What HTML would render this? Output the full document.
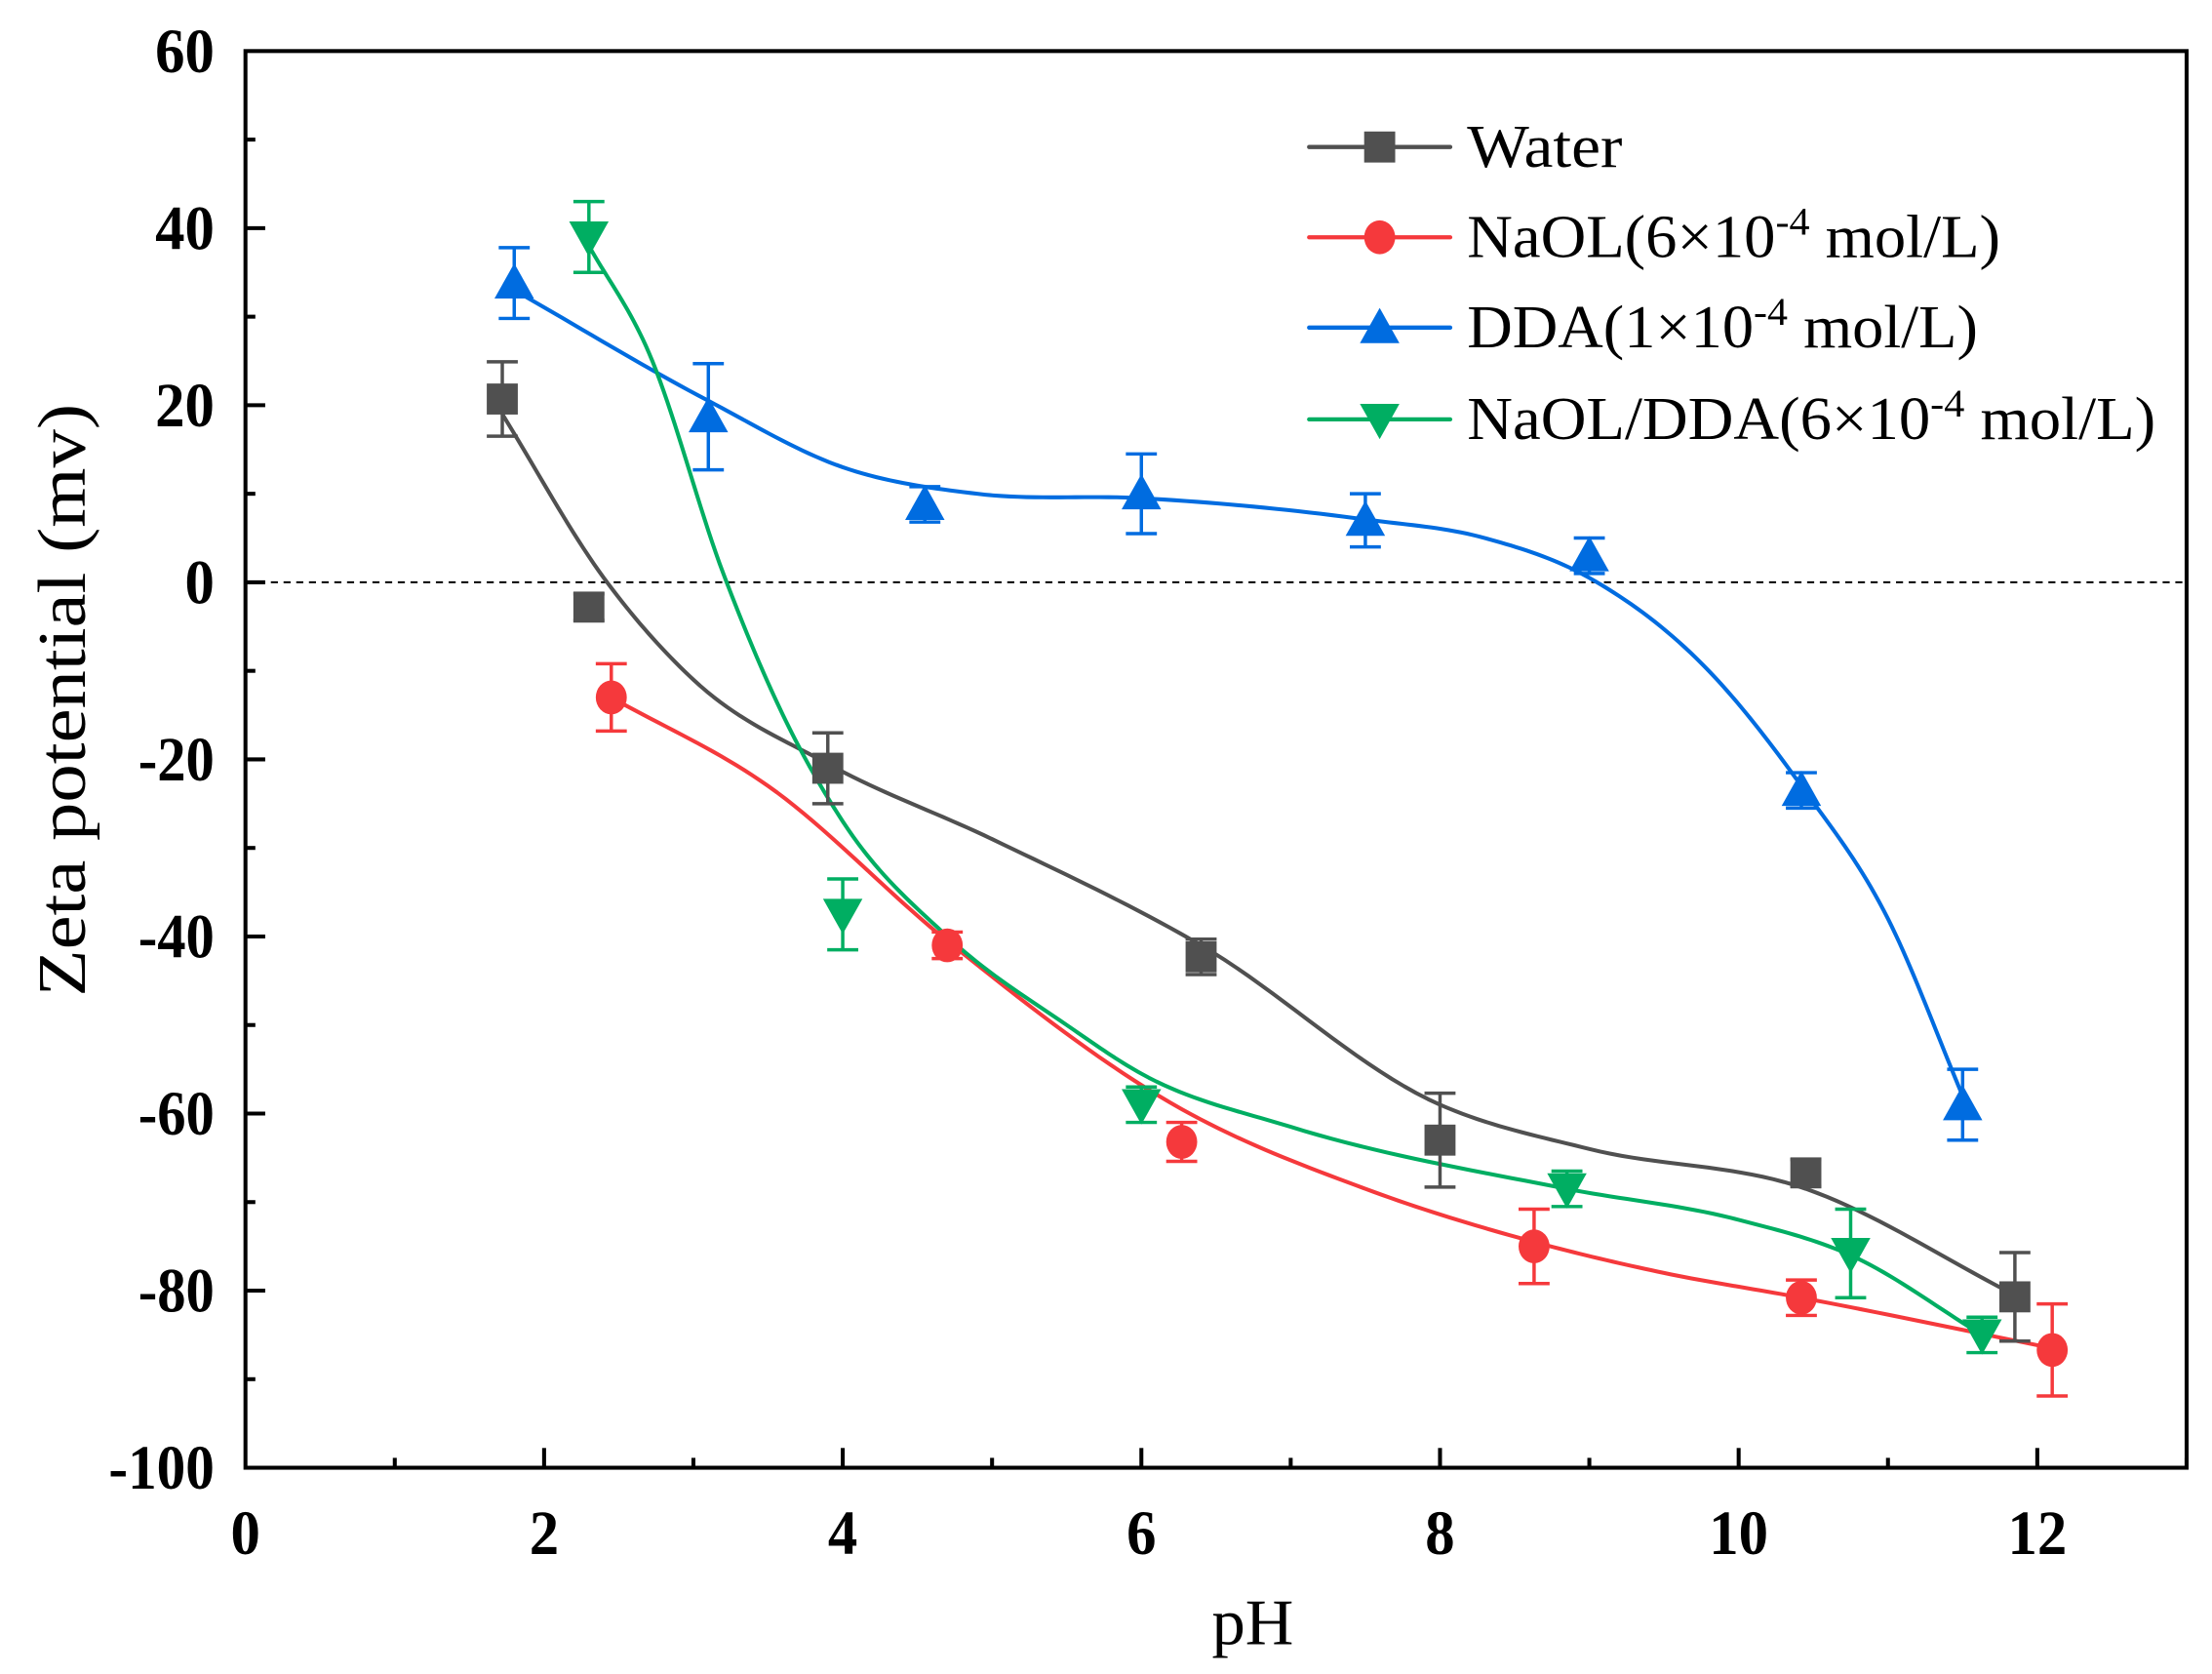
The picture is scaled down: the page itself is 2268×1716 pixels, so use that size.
<!DOCTYPE html>
<html><head><meta charset="utf-8"><style>
html,body{margin:0;padding:0;background:#fff}
svg{display:block}
text{font-family:"Liberation Serif",serif}
</style></head><body>
<svg id="chart" width="2268" height="1716" viewBox="0 0 1568 1186" xmlns="http://www.w3.org/2000/svg"></svg>
<script>
const seriesNames=["Water","NaOL","DDA","NaOL/DDA"];
const colors=["#505050","#f5393c","#006ce0","#00ae62"];
const waterX=[1.72,2.3,3.9,6.4,8.0,10.45,11.85];
const waterY=[20.7,-2.8,-21,-42.3,-63,-66.7,-80.7];
const waterErr=[4.2,1.5,4,2,5.3,1.5,5];
const naolX=[2.45,4.7,6.27,8.63,10.42,12.1];
const naolY=[-13,-41,-63.2,-75,-80.8,-86.7];
const naolErr=[3.8,1.5,2.2,4.2,2,5.2];
const ddaX=[1.8,3.1,4.55,6.0,7.5,9.0,10.42,11.5];
const ddaY=[33.8,18.7,8.8,10,7,3,-23.5,-59];
const ddaErr=[4,6,2,4.5,3,2,2,4];
const mixX=[2.3,4.0,6.0,8.85,10.75,11.63];
const mixY=[39,-37.5,-59,-68.5,-75.8,-85];
const mixErr=[4,4,2,2,5,2];
const waterFitX=[1.72,2.4,3,3.9,5,6.4,8,9,10.45,11.85];
const waterFitY=[19,0.5,-11,-20.5,-29,-41,-59,-64,-68.5,-80.5];
const naolFitX=[2.45,3.5,4.7,6.27,7.5,8.63,9.5,10.42,12.1];
const naolFitY=[-13,-23,-40.5,-59.5,-68.5,-74.5,-78,-80.8,-86.5];
const ddaFitX=[1.8,3.1,4,4.9,6,7.5,8.3,9,9.8,10.42,11,11.5];
const ddaFitY=[33,20.5,13,10,9.5,7.1,5,0.5,-10,-23,-38,-58];
const mixFitX=[2.3,2.7,3.2,3.6,4,4.7,5.5,6,7,8.85,10,10.75,11.63];
const mixFitY=[38,26,1,-15,-27,-40,-50,-55.5,-61.5,-68.5,-72,-76,-85];
const xTicks=[0,2,4,6,8,10,12];
const yTicks=[60,40,20,0,-20,-40,-60,-80,-100];

const L=174,R=1550,T=36,B=1040,XMAX=13,YMIN=-100,YMAX=60;
const sx=v=>L+v/XMAX*(R-L);
const sy=v=>T+(YMAX-v)/(YMAX-YMIN)*(B-T);
const svg=document.getElementById('chart');
const NS="http://www.w3.org/2000/svg";
function mk(tag,attrs,parent){const e=document.createElementNS(NS,tag);for(const k in attrs)e.setAttribute(k,attrs[k]);(parent||svg).appendChild(e);return e;}

let z=mk('line',{x1:L,x2:R,y1:sy(0),y2:sy(0),stroke:'#000','stroke-width':1.4,'stroke-dasharray':'5,4'});



function curve(xs,ys,color,name){
  const n=xs.length,d=[],m=[];
  for(let i=0;i<n-1;i++)d.push((ys[i+1]-ys[i])/(xs[i+1]-xs[i]));
  m[0]=d[0];m[n-1]=d[n-2];
  for(let i=1;i<n-1;i++){
    const h0=xs[i]-xs[i-1],h1=xs[i+1]-xs[i];
    m[i]=(d[i-1]*h1+d[i]*h0)/(h0+h1);
  }
  let path='';
  for(let i=0;i<n-1;i++){
    const h=xs[i+1]-xs[i];
    for(let k=0;k<=20;k++){
      const t=k/20,t2=t*t,t3=t2*t;
      const y=(2*t3-3*t2+1)*ys[i]+(t3-2*t2+t)*h*m[i]+(-2*t3+3*t2)*ys[i+1]+(t3-t2)*h*m[i+1];
      const x=xs[i]+t*h;
      path+=(path?'L':'M')+sx(x).toFixed(2)+','+sy(y).toFixed(2);
    }
  }
  const e=mk('path',{d:path,fill:'none',stroke:color,'stroke-width':2.8,'stroke-linejoin':'round'});
  
  
}
function marker(type,cx,cy,color,parent){
  let e;
  if(type==0)e=mk('rect',{x:cx-11,y:cy-11,width:22,height:22,fill:color},parent);
  else if(type==1)e=mk('ellipse',{cx,cy,rx:11,ry:12,fill:color},parent);
  else if(type==2)e=mk('polygon',{points:`${cx},${cy-14} ${cx-14},${cy+11} ${cx+14},${cy+11}`,fill:color},parent);
  else e=mk('polygon',{points:`${cx},${cy+14} ${cx-14},${cy-11} ${cx+14},${cy-11}`,fill:color},parent);
  return e;
}
function points(xs,ys,errs,type,color,name){
  xs.forEach((x,i)=>{
    const cx=sx(x),cy=sy(ys[i]),t=sy(ys[i]+errs[i]),b=sy(ys[i]-errs[i]);
    const g=mk('g',{stroke:color,'stroke-width':2.4});
    
    
    mk('line',{x1:cx,x2:cx,y1:t,y2:b},g);
    mk('line',{x1:cx-11,x2:cx+11,y1:t,y2:t},g);
    mk('line',{x1:cx-11,x2:cx+11,y1:b,y2:b},g);
    const m=marker(type,cx,cy,color);
    
    
  });
}
curve(waterFitX,waterFitY,colors[0],'water');
curve(naolFitX,naolFitY,colors[1],'naol');
curve(ddaFitX,ddaFitY,colors[2],'dda');
curve(mixFitX,mixFitY,colors[3],'naol-dda');
points(waterX,waterY,waterErr,0,colors[0],'water');
points(naolX,naolY,naolErr,1,colors[1],'naol');
points(ddaX,ddaY,ddaErr,2,colors[2],'dda');
points(mixX,mixY,mixErr,3,colors[3],'naol-dda');

let f=mk('rect',{x:L,y:T,width:R-L,height:B-T,fill:'none',stroke:'#000','stroke-width':2.8});


for(let v=1;v<=XMAX;v++){const len=v%2==0?14:7;const t=mk('line',{x1:sx(v),x2:sx(v),y1:B,y2:B-len,stroke:'#000','stroke-width':2.8});}
for(let v=YMIN+10;v<YMAX;v+=10){const len=v%20==0?14:7;const t=mk('line',{x1:L,x2:L+len,y1:sy(v),y2:sy(v),stroke:'#000','stroke-width':2.8});}
xTicks.forEach(v=>{const t=mk('text',{x:sx(v),y:1101,'text-anchor':'middle','font-size':45,'font-weight':'bold',textLength:String(v).length*21,lengthAdjust:'spacingAndGlyphs'});t.textContent=v;});
yTicks.forEach(v=>{const s=String(v);const w=s.replace('-','').length*21+(s[0]=='-'?12:0);const t=mk('text',{x:152,y:sy(v)+15,'text-anchor':'end','font-size':45,'font-weight':'bold',textLength:w,lengthAdjust:'spacingAndGlyphs'});t.textContent=s;});
let xt=mk('text',{x:888,y:1165,'text-anchor':'middle','font-size':46,textLength:58,lengthAdjust:'spacingAndGlyphs'});xt.textContent='pH';

let yt=mk('text',{x:0,y:0,'text-anchor':'middle','font-size':48,transform:'translate(60,496) rotate(-90)',textLength:420,lengthAdjust:'spacingAndGlyphs'});yt.textContent='Zeta potential (mv)';


const legRows=[["Water",null,"",110],["NaOL(6×10","-4"," mol/L)",378],["DDA(1×10","-4"," mol/L)",362],["NaOL/DDA(6×10","-4"," mol/L)",488]];
const legY=[104,168,232,297];
legRows.forEach((r,i)=>{
  const g=mk('g',{});
  
  
  mk('line',{x1:928,x2:1028,y1:legY[i],y2:legY[i],stroke:colors[i],'stroke-width':3,'stroke-linecap':'round'},g);
  marker(i,978,legY[i],colors[i],g);
  const t=mk('text',{x:1040,y:legY[i]+14,'font-size':43,textLength:r[3],lengthAdjust:'spacingAndGlyphs'},g);
  t.appendChild(document.createTextNode(r[0]));
  if(r[1]){const s=document.createElementNS(NS,'tspan');s.setAttribute('dy',-16);s.setAttribute('font-size',28);s.textContent=r[1];t.appendChild(s);
    const s2=document.createElementNS(NS,'tspan');s2.setAttribute('dy',16);s2.textContent=r[2];t.appendChild(s2);}
});
</script>
</body></html>
